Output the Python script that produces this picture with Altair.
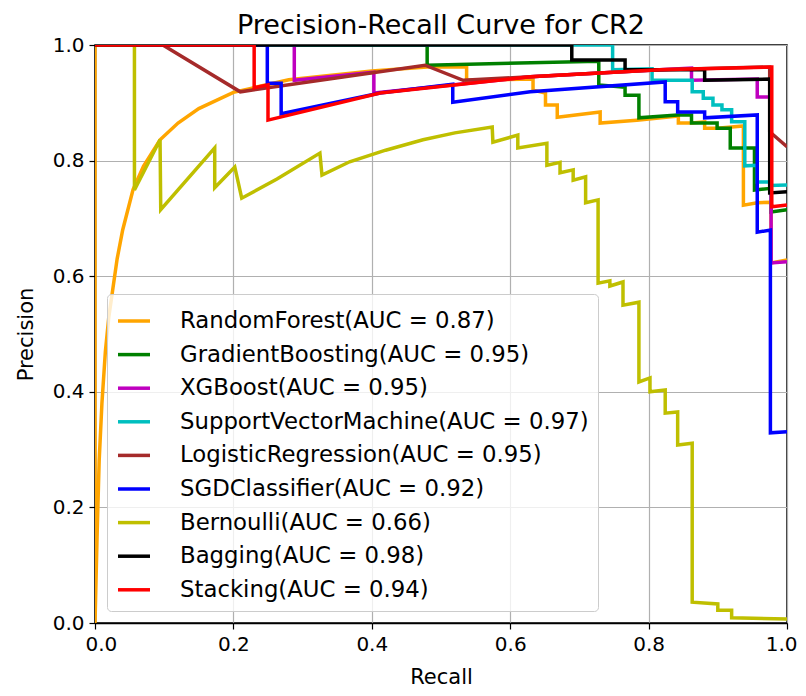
import altair as alt
import pandas as pd

names = [
    "RandomForest(AUC = 0.87)",
    "GradientBoosting(AUC = 0.95)",
    "XGBoost(AUC = 0.95)",
    "SupportVectorMachine(AUC = 0.97)",
    "LogisticRegression(AUC = 0.95)",
    "SGDClassifier(AUC = 0.92)",
    "Bernoulli(AUC = 0.66)",
    "Bagging(AUC = 0.98)",
    "Stacking(AUC = 0.94)",
]
colors = ["#FFA500", "#008000", "#BF00BF", "#00BFBF", "#A52A2A",
          "#0000FF", "#BFBF00", "#000000", "#FF0000"]

rf_r = [0, 0, 0.003, 0.006, 0.010, 0.015, 0.020, 0.026, 0.032, 0.040,
        0.055, 0.070, 0.094, 0.120, 0.150, 0.200, 0.280, 0.400, 0.480, 0.537,
        0.537, 0.633, 0.633, 0.651, 0.651, 0.668, 0.668, 0.730, 0.730, 0.783,
        0.843, 0.843, 0.862, 0.881, 0.881, 0.899, 0.937, 0.937, 0.957, 0.977,
        0.977, 1.0]
rf_p = [1, 0, 0.15, 0.28, 0.38, 0.47, 0.53, 0.58, 0.63, 0.68,
        0.75, 0.79, 0.836, 0.865, 0.89, 0.918, 0.94, 0.955, 0.962, 0.962,
        0.939, 0.941, 0.922, 0.917, 0.896, 0.896, 0.875, 0.884, 0.865, 0.870,
        0.877, 0.865, 0.865, 0.867, 0.856, 0.856, 0.860, 0.723, 0.727, 0.728,
        0.623, 0.628]

gb_r = [0, 0.480, 0.480, 0.728, 0.728, 0.766, 0.766, 0.786, 0.786, 0.842,
        0.862, 0.862, 0.899, 0.899, 0.918, 0.918, 0.953, 0.953, 0.977, 0.977, 1.0]
gb_p = [1, 1, 0.965, 0.972, 0.931, 0.927, 0.913, 0.913, 0.874, 0.879,
        0.879, 0.865, 0.865, 0.856, 0.856, 0.822, 0.822, 0.749, 0.752, 0.711, 0.715]

xgb_r = [0, 0.288, 0.288, 0.403, 0.403, 0.629, 0.816, 0.862, 0.862, 0.957,
         0.957, 0.977, 0.977, 1.0]
xgb_p = [1, 1, 0.939, 0.953, 0.917, 0.945, 0.957, 0.960, 0.939, 0.941,
         0.910, 0.910, 0.623, 0.625]

svm_r = [0, 0.748, 0.748, 0.805, 0.805, 0.863, 0.863, 0.879, 0.879, 0.893,
         0.893, 0.906, 0.906, 0.920, 0.920, 0.939, 0.939, 0.957, 0.957, 0.975,
         0.975, 1.0]
svm_p = [1, 1, 0.957, 0.959, 0.939, 0.939, 0.919, 0.919, 0.908, 0.908,
         0.896, 0.896, 0.888, 0.888, 0.867, 0.867, 0.791, 0.792, 0.763, 0.763,
         0.757, 0.758]

lr_r = [0, 0.098, 0.210, 0.477, 0.532, 0.629, 0.816, 0.975, 0.975, 1.0]
lr_p = [1, 1, 0.919, 0.965, 0.939, 0.945, 0.957, 0.962, 0.850, 0.824]

sgd_r = [0, 0.249, 0.249, 0.269, 0.269, 0.412, 0.517, 0.517, 0.629, 0.824,
         0.824, 0.842, 0.842, 0.881, 0.881, 0.957, 0.957, 0.976, 0.976, 1.0]
sgd_p = [1, 1, 0.934, 0.934, 0.881, 0.917, 0.932, 0.901, 0.919, 0.936,
         0.902, 0.902, 0.884, 0.884, 0.874, 0.879, 0.676, 0.680, 0.329, 0.331]

nb_r = [0, 0.057, 0.057, 0.094, 0.095, 0.173, 0.173, 0.202, 0.212, 0.263,
        0.325, 0.328, 0.368, 0.420, 0.474, 0.520, 0.574, 0.575, 0.611, 0.611,
        0.653, 0.653, 0.672, 0.672, 0.691, 0.691, 0.709, 0.709, 0.727, 0.727,
        0.744, 0.744, 0.763, 0.763, 0.786, 0.786, 0.802, 0.802, 0.824, 0.824,
        0.842, 0.842, 0.863, 0.863, 0.900, 0.900, 0.920, 0.920, 1.0]
nb_p = [1, 1, 0.749, 0.836, 0.715, 0.822, 0.753, 0.789, 0.735, 0.768,
        0.813, 0.775, 0.798, 0.818, 0.836, 0.848, 0.858, 0.832, 0.844, 0.822,
        0.830, 0.792, 0.797, 0.779, 0.784, 0.766, 0.772, 0.727, 0.732, 0.588,
        0.592, 0.583, 0.590, 0.550, 0.555, 0.417, 0.424, 0.400, 0.403, 0.363,
        0.365, 0.308, 0.311, 0.036, 0.033, 0.022, 0.022, 0.009, 0.007]

bag_r = [0, 0.689, 0.689, 0.766, 0.766, 0.881, 0.881, 0.975, 0.975, 1.0]
bag_p = [1, 1, 0.974, 0.974, 0.957, 0.957, 0.939, 0.941, 0.744, 0.746]

stk_r = [0, 0.230, 0.230, 0.250, 0.250, 0.412, 0.629, 0.816, 0.978, 0.978, 1.0]
stk_p = [1, 1, 0.926, 0.931, 0.870, 0.917, 0.945, 0.957, 0.962, 0.720, 0.723]

recalls = [rf_r, gb_r, xgb_r, svm_r, lr_r, sgd_r, nb_r, bag_r, stk_r]
precisions = [rf_p, gb_p, xgb_p, svm_p, lr_p, sgd_p, nb_p, bag_p, stk_p]

rows = []
for name, rs, ps in zip(names, recalls, precisions):
    for i, (r, p) in enumerate(zip(rs, ps)):
        rows.append({"model": name, "recall": r, "precision": p, "i": i})
df = pd.DataFrame(rows)

FONT = "DejaVu Sans"

color = alt.Color(
    "model:N",
    scale=alt.Scale(domain=names, range=colors),
    legend=alt.Legend(
        title=None,
        orient="none",
        legendX=12,
        legendY=249,
        symbolType="stroke",
        symbolSize=1024,
        symbolStrokeWidth=3.5,
        labelFont=FONT,
        labelFontSize=22.8,
        labelColor="black",
        labelOffset=28,
        labelLimit=600,
        rowPadding=3.6,
        padding=9,
        fillColor="rgba(255,255,255,0.8)",
        strokeColor="#cccccc",
        cornerRadius=4,
    ),
)
x = alt.X(
    "recall:Q",
    scale=alt.Scale(domain=[0, 1], nice=False),
    axis=alt.Axis(
        values=[0, 0.2, 0.4, 0.6, 0.8, 1.0], format=".1f", title="Recall",
        labelFlush=True, labelFlushOffset=10,
    ),
)
y = alt.Y(
    "precision:Q",
    scale=alt.Scale(domain=[0, 1], nice=False),
    axis=alt.Axis(values=[0, 0.2, 0.4, 0.6, 0.8, 1.0], format=".1f", title="Precision",
                  labelFlush=False),
)

layers = [
    alt.Chart(df)
    .transform_filter(alt.datum.model == n)
    .mark_line(strokeWidth=3.5, clip=True)
    .encode(x=x, y=y, color=color, order="i:Q")
    for n in names
]

chart = (
    alt.layer(*layers)
    .properties(
        width=692,
        height=578,
        title=alt.Title("Precision-Recall Curve for CR2", fontSize=27, font=FONT,
                        fontWeight="normal", color="black", offset=-5),
        autosize=alt.AutoSizeParams(type="none"),
        padding={"left": 87, "top": 37, "right": 11, "bottom": 65},
    )
    .configure_view(stroke="black", strokeWidth=1.5)
    .configure_axis(
        grid=True,
        gridColor="#b0b0b0",
        gridWidth=1.2,
        domainColor="black",
        domainWidth=1.5,
        tickColor="black",
        tickSize=6,
        tickWidth=1.2,
        labelFont=FONT,
        labelFontSize=20,
        labelColor="black",
        labelPadding=5,
        titleFont=FONT,
        titleFontSize=21,
        titleFontWeight="normal",
        titleColor="black",
    )
    .configure_axisX(titlePadding=12)
    .configure_axisY(titlePadding=16)
)

chart.save("out.html", embed_options={"renderer": "svg", "actions": False})
